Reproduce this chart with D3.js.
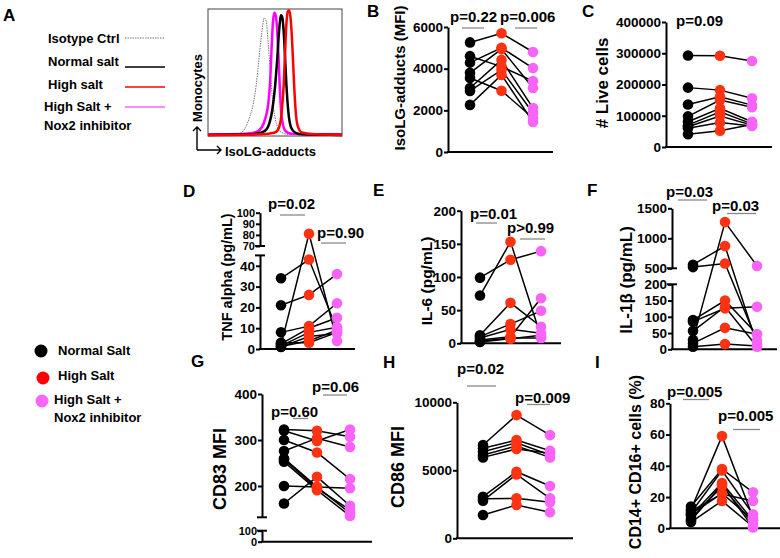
<!DOCTYPE html>
<html><head><meta charset="utf-8">
<script src="https://cdn.jsdelivr.net/npm/d3@7"></script>
<style>
body{margin:0;background:#fff;}
svg text{font-family:"Liberation Sans",Arial,sans-serif;font-weight:bold;fill:#000;}
</style></head><body>
<svg id="chart" width="780" height="558"></svg>
<script>
// ---------- DATA ----------
const groups = ["Normal Salt", "High Salt", "High Salt + Nox2 inhibitor"];

// Panel A histogram (x: fluorescence 0-100, y: % of max)
const histIsotype = [[0,0],[20,0.5],[25,2],[28,6],[31,14],[34,26],[36,40],[38,60],[40,80],[42,93],[43.5,90],[45,72],[46.5,50],[48,30],[50,14],[52,6],[55,2],[60,0.5],[100,0]];
const histNox2    = [[0,0.5],[25,0.8],[35,2],[40,6],[43,14],[45,25],[46.5,45],[47.5,70],[48.5,90],[49.5,97],[50.5,95],[51.5,85],[52.5,65],[53.5,40],[54.5,20],[56,8],[58,3],[62,1],[100,0.5]];
const histNormal  = [[0,0],[30,0.5],[40,2],[44,5],[46,10],[48,20],[50,38],[51.5,58],[53,82],[54.5,95],[55.5,93],[56.5,82],[57.5,62],[58.5,40],[60,18],[62,6],[65,2],[70,0.5],[100,0]];
const histHigh    = [[0,0],[40,0.5],[50,2],[53,6],[55,18],[56.5,40],[57.5,65],[58.5,88],[59.5,98],[60.5,99],[61.5,94],[62.5,80],[63.5,58],[64.5,35],[65.5,18],[67,7],[70,2],[80,0.5],[100,0]];
const histLegend = ["Isotype Ctrl", "Normal salt", "High salt", "High Salt +", "Nox2 inhibitor"];

// Panel B: IsoLG-adducts (MFI)
const isolgNormal = [5260, 4600, 4290, 3800, 3550, 3070, 2930, 2260];
const isolgHigh   = [5700, 4100, 5000, 4940, 2940, 4420, 3940, 3700];
const isolgNox2   = [4800, 3400, 4030, 3070, 1630, 2110, 1870, 1440];
const isolgTicks  = [0, 2000, 4000, 6000];

// Panel C: # Live cells
const liveNormal = [293000, 190000, 136000, 98000, 81000, 70000, 65000, 60000, 41000];
const liveHigh   = [292000, 182000, 161000, 150000, 124000, 113000, 99000, 78000, 52000];
const liveNox2   = [275000, 156000, 134000, 127000, 81000, 74000, 70000, 67000, 72000];
const liveTicks  = [0, 100000, 200000, 300000, 400000];

// Panel D: TNF alpha (pg/mL), broken axis
const tnfNormal = [34, 2, 21, 8, 2.5, 1.5, 1, 1.2, 3];
const tnfHigh   = [43, 81, 26, 11, 10, 8, 6, 4, 3];
const tnfNox2   = [9.5, 3.8, 36, 22, 15, 10.5, 7.5, 9, 8];
const tnfTicksLow  = [0, 10, 20, 30, 40];
const tnfTicksHigh = [70, 80, 90, 100];

// Panel E: IL-6 (pg/mL)
const il6Normal = [99, 72, 12, 10, 8, 5, 3, 2];
const il6High   = [126, 153, 61, 29, 21, 10, 8, 7];
const il6Nox2   = [139, 10, 25, 49, 15, 68, 8, 12];
const il6Ticks  = [0, 50, 100, 150, 200];

// Panel F: IL-1beta (pg/mL), broken axis
const il1bNormal = [560, 520, 29, 90, 85, 56, 18, 8];
const il1bHigh   = [870, 580, 1270, 150, 126, 131, 66, 16];
const il1bNox2   = [15, 26, 540, 46, 131, 8, 46, 10];
const il1bTicksLow  = [0, 50, 100, 150, 200];
const il1bTicksHigh = [500, 1000, 1500];

// Panel G: CD83 MFI, broken axis
const cd83Normal = [323, 320, 300, 276, 260, 253, 200, 162, 258];
const cd83High   = [320, 298, 273, 304, 198, 191, 198, 220, 195];
const cd83Nox2   = [307, 323, 215, 285, 141, 135, 195, 157, 148];
const cd83TicksLow  = [0, 100];
const cd83TicksHigh = [200, 300, 400];

// Panel H: CD86 MFI
const cd86Normal = [6860, 6615, 6365, 6120, 5950, 3060, 2765, 2900, 1713];
const cd86High   = [9060, 7225, 7030, 6785, 6565, 4895, 4700, 2940, 2450];
const cd86Nox2   = [7590, 6440, 6120, 5950, 6250, 3845, 2940, 2645, 1910];
const cd86Ticks  = [0, 5000, 10000];

// Panel I: CD14+ CD16+ cells (%)
const cd14Normal = [12, 14, 10, 8, 6, 11, 4, 5, 9];
const cd14High   = [59, 38, 37, 29, 27, 22, 17.5, 28, 22.4];
const cd14Nox2   = [7, 23, 9, 5, 3, 17.5, 1, 0.5, 5.3];
const cd14Ticks  = [0, 20, 40, 60, 80];

// ---------- DRAWING ----------
const svg = d3.select("#chart");
const dotColors = ["#000000", "#ff3312", "#f864f8"];

function txt(t, x, y, size, opts = {}) {
  const e = svg.append("text").attr("x", x).attr("y", y).attr("font-size", size).text(t);
  if (opts.anchor) e.attr("text-anchor", opts.anchor);
  return e;
}
function vtxt(t, cx, cy, size) {
  svg.append("text").attr("transform", `translate(${cx},${cy}) rotate(-90)`)
    .attr("text-anchor", "middle").attr("dy", "0.35em").attr("font-size", size).text(t);
}

// ----- Panel A -----
txt("A", 3, 21, 17);
const legA = [
  {y: 38, stroke: "#777", w: 1.2, dash: "1.5,1"},
  {y: 67, stroke: "#000", w: 1.5},
  {y: 87, stroke: "#ff0000", w: 1.5},
  {y: 107, stroke: "#ff66ff", w: 1.5}
];
const legAText = [[48, 43], [48, 66], [48, 89], [44, 111], [44, 130]];
histLegend.forEach((t, i) => txt(t, legAText[i][0], legAText[i][1], 13));
legA.forEach(l => svg.append("line").attr("x1", 125).attr("x2", 165).attr("y1", l.y).attr("y2", l.y)
  .attr("stroke", l.stroke).attr("stroke-width", l.w).attr("stroke-dasharray", l.dash || null));

const hx = d3.scaleLinear().domain([0, 100]).range([208, 342]);
const hy = d3.scaleLinear().domain([0, 100]).range([135, 9]);
svg.append("rect").attr("x", 208).attr("y", 9).attr("width", 134).attr("height", 127)
  .attr("fill", "none").attr("stroke", "#444").attr("stroke-width", 1);
const hline = d3.line().x(d => hx(d[0])).y(d => hy(d[1])).curve(d3.curveMonotoneX);
[
  {d: histIsotype, c: "#777", w: 1, dash: "1.5,1"},
  {d: histNox2, c: "#ff00ff", w: 2.5},
  {d: histNormal, c: "#000", w: 2.5},
  {d: histHigh, c: "#ff0000", w: 2.5}
].forEach(s => svg.append("path").attr("d", hline(s.d)).attr("fill", "none")
  .attr("stroke", s.c).attr("stroke-width", s.w).attr("stroke-dasharray", s.dash || null));
// arrows
svg.append("path").attr("d", "M197,150V127M193,131L197,127L201,131M197,150H221M217,146L221,150L217,154")
  .attr("fill", "none").attr("stroke", "#000").attr("stroke-width", 1.4);
vtxt("Monocytes", 197, 88, 13);
txt("IsoLG-adducts", 225, 156, 13);

// ----- Legend (bottom-left) -----
[[41, 351], [43, 378], [42, 401]].forEach((p, i) =>
  svg.append("circle").attr("cx", p[0]).attr("cy", p[1]).attr("r", 6.5)
    .attr("fill", ["#000", "#ff0000", "#ff66ff"][i]));
txt(groups[0], 58, 355, 13);
txt(groups[1], 58, 380, 13);
txt("High Salt +", 54, 404, 13);
txt("Nox2 inhibitor", 54, 422, 13);

// ----- Scatter panels -----
function panel(p) {
  const segs = p.segments.map(s => Object.assign({}, s, {scale: d3.scaleLinear().domain(s.domain).range(s.range)}));
  const y = v => {
    for (const s of segs) if (v >= s.domain[0] - 1e-9 && v <= s.domain[1] + 1e-9) return s.scale(v);
    let best = segs[0], bd = Infinity;
    segs.forEach(s => { const d = Math.min(Math.abs(v - s.domain[0]), Math.abs(v - s.domain[1])); if (d < bd) { bd = d; best = s; } });
    return best.scale(v);
  };
  const x = d3.scalePoint().domain(groups).range(p.xr);
  const g = svg.append("g");
  // axes
  segs.forEach((s, i) => {
    const ax = g.append("g").attr("transform", `translate(${p.ax},0)`)
      .call(d3.axisLeft(s.scale).tickValues(s.ticks).tickSize(4).tickPadding(1).tickSizeOuter(0).tickFormat(d3.format("d")));
    ax.select(".domain").attr("stroke-width", 2);
    ax.selectAll(".tick line").attr("stroke-width", 2);
    ax.selectAll(".tick text").attr("font-size", s.fs || 13.5).attr("font-weight", "bold")
      .attr("font-family", '"Liberation Sans",Arial,sans-serif');
    if (segs.length > 1) {
      const ends = [];
      if (i > 0) ends.push(s.range[0]);
      if (i < segs.length - 1) ends.push(s.range[1]);
      ends.forEach(e => g.append("line").attr("x1", p.ax - 5).attr("x2", p.ax + 5).attr("y1", e).attr("y2", e)
        .attr("stroke", "#000").attr("stroke-width", 2));
    }
  });
  const y0 = segs[0].range[0];
  g.append("line").attr("x1", p.ax - 1).attr("x2", p.xEnd).attr("y1", y0).attr("y2", y0)
    .attr("stroke", "#000").attr("stroke-width", 2);
  // connecting lines
  const line = d3.line().x(d => x(d[0])).y(d => y(d[1]));
  p.data[0].forEach((v, i) => {
    const pts = groups.map((gr, k) => [gr, p.data[k][i]]);
    g.append("path").attr("d", line(pts)).attr("fill", "none").attr("stroke", "#000").attr("stroke-width", 1.5);
  });
  // dots
  p.data.forEach((arr, k) => arr.forEach(v =>
    g.append("circle").attr("cx", x(groups[k])).attr("cy", y(v)).attr("r", 5.3).attr("fill", dotColors[k])));
  // titles
  txt(p.letter[0], p.letter[1], p.letter[2], 17);
  vtxt(p.title[0], p.title[1], p.title[2], p.title[3]);
  (p.pvals || []).forEach(pv => {
    if (pv.bar) g.append("line").attr("x1", pv.bar[0]).attr("x2", pv.bar[1]).attr("y1", pv.bar[2]).attr("y2", pv.bar[2])
      .attr("stroke", "#888").attr("stroke-width", 1.3);
    txt(pv.t, pv.x, pv.y, 15);
  });
}

panel({
  letter: ["B", 367, 17], title: ["IsoLG-adducts  (MFI)", 400, 78, 15],
  ax: 448, xr: [470, 533], xEnd: 553,
  segments: [{domain: [0, 6000], range: [152, 27], ticks: isolgTicks}],
  data: [isolgNormal, isolgHigh, isolgNox2],
  pvals: [{t: "p=0.22", x: 450, y: 22, bar: [462, 484, 28]}, {t: "p=0.006", x: 500, y: 22, bar: [515, 537, 28]}]
});
panel({
  letter: ["C", 582, 17], title: ["# Live cells", 602, 83, 17],
  ax: 666, xr: [688, 752], xEnd: 772,
  segments: [{domain: [0, 400000], range: [147, 22], ticks: liveTicks}],
  data: [liveNormal, liveHigh, liveNox2],
  pvals: [{t: "p=0.09", x: 676, y: 26}]
});
panel({
  letter: ["D", 183, 197], title: ["TNF alpha  (pg/mL)", 227, 277, 14.5],
  ax: 260, xr: [281, 337], xEnd: 355,
  segments: [{domain: [0, 45], range: [349, 255.4], ticks: tnfTicksLow},
             {domain: [70, 100], range: [246, 212.7], ticks: tnfTicksHigh, fs: 11}],
  data: [tnfNormal, tnfHigh, tnfNox2],
  pvals: [{t: "p=0.02", x: 268, y: 209, bar: [280, 305, 215]}, {t: "p=0.90", x: 317, y: 238, bar: [321, 346, 243]}]
});
panel({
  letter: ["E", 373, 196], title: ["IL-6 (pg/mL)", 427, 281, 15.5],
  ax: 461, xr: [480, 541], xEnd: 561,
  segments: [{domain: [0, 200], range: [343.3, 210.7], ticks: il6Ticks}],
  data: [il6Normal, il6High, il6Nox2],
  pvals: [{t: "p=0.01", x: 470, y: 219, bar: [476, 497, 223]}, {t: "p>0.99", x: 507, y: 233, bar: [520, 545, 239]}]
});
panel({
  letter: ["F", 587, 196], title: ["IL-1β (pg/mL)", 626, 280, 17],
  ax: 672, xr: [693, 757], xEnd: 777,
  segments: [{domain: [0, 200], range: [349.3, 284.3], ticks: il1bTicksLow},
             {domain: [500, 1500], range: [268.3, 208.3], ticks: il1bTicksHigh}],
  data: [il1bNormal, il1bHigh, il1bNox2],
  pvals: [{t: "p=0.03", x: 666, y: 197, bar: [678, 707, 200]}, {t: "p=0.03", x: 712, y: 211, bar: [727, 756, 213.5]}]
});
panel({
  letter: ["G", 191, 367], title: ["CD83 MFI", 220, 469, 18],
  ax: 262, xr: [284, 350], xEnd: 372,
  segments: [{domain: [0, 100], range: [541.7, 530.7], ticks: cd83TicksLow, fs: 11},
             {domain: [132, 400], range: [517.3, 394], ticks: cd83TicksHigh}],
  data: [cd83Normal, cd83High, cd83Nox2],
  pvals: [{t: "p=0.60", x: 271, y: 417, bar: [293, 308, 418.5]}, {t: "p=0.06", x: 312, y: 392, bar: [323, 347, 395]}]
});
panel({
  letter: ["H", 383, 368], title: ["CD86 MFI", 398, 467, 18],
  ax: 457, xr: [483, 550], xEnd: 573,
  segments: [{domain: [0, 10000], range: [538.3, 402.3], ticks: cd86Ticks}],
  data: [cd86Normal, cd86High, cd86Nox2],
  pvals: [{t: "p=0.02", x: 457, y: 374, bar: [467, 496, 386]}, {t: "p=0.009", x: 515, y: 403, bar: [527, 550, 404.5]}]
});
panel({
  letter: ["I", 595, 368], title: ["CD14+ CD16+ cells (%)", 635, 462, 16],
  ax: 670, xr: [691, 753], xEnd: 780,
  segments: [{domain: [0, 80], range: [528.3, 403.3], ticks: cd14Ticks}],
  data: [cd14Normal, cd14High, cd14Nox2],
  pvals: [{t: "p=0.005", x: 667, y: 397, bar: [683, 709, 399.5]}, {t: "p=0.005", x: 718, y: 421, bar: [733, 760, 429.5]}]
});
</script>
</body></html>
